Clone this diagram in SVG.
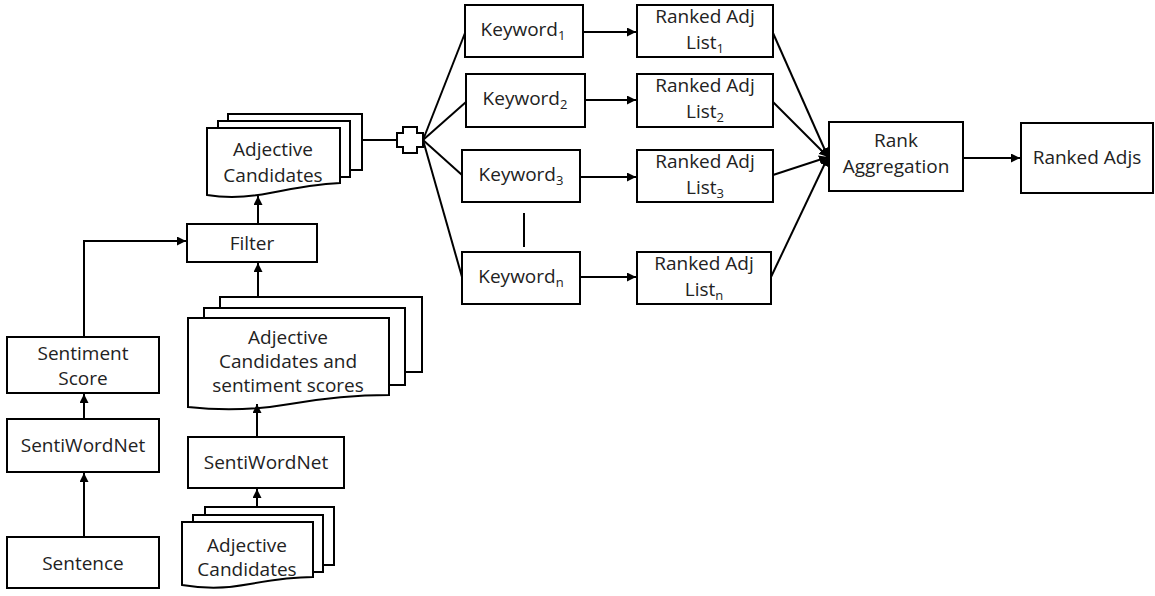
<svg xmlns="http://www.w3.org/2000/svg" width="1155" height="596" viewBox="0 0 1155 596">
  <style>
    .box { fill: #fff; stroke: #000; stroke-width: 2; }
    .lbl { font-family: "Open Sans", "Noto Sans", sans-serif; font-size: 19px; fill: #222; text-anchor: middle; }
    .sub { font-size: 13px; }
    .wire { fill: none; stroke: #000; stroke-width: 2; }
  </style>
  <defs>
    <marker id="arrow" viewBox="0 0 10 10" refX="10" refY="5" markerWidth="9" markerHeight="9" markerUnits="userSpaceOnUse" orient="auto">
      <path d="M0,0 L10,5 L0,10 z" fill="#000"/>
    </marker>
  </defs>

  <rect width="1155" height="596" fill="#fff"/>

  <!-- left branch: sentence scoring -->
  <g id="sentence">
    <rect class="box" x="7" y="537" width="152" height="51"/>
    <text class="lbl" x="83" y="570">Sentence</text>
  </g>
  <g id="sentiwordnet-1">
    <rect class="box" x="7" y="419" width="152" height="53"/>
    <text class="lbl" x="83" y="452">SentiWordNet</text>
  </g>
  <g id="sentiment-score">
    <rect class="box" x="7" y="337" width="152" height="56"/>
    <text class="lbl" x="83" y="360">Sentiment</text>
    <text class="lbl" x="83" y="385">Score</text>
  </g>

  <!-- middle branch: candidate scoring -->
  <g id="adj-candidates-in">
    <rect class="box" x="205" y="507" width="129" height="58"/>
    <rect class="box" x="193" y="515" width="130" height="57"/>
    <path class="box" d="M182,522 H313 V577 C295,577 272,580 250,584 C225,589 200,588 182,585 Z"/>
    <text class="lbl" x="247" y="552">Adjective</text>
    <text class="lbl" x="247" y="576">Candidates</text>
  </g>
  <g id="sentiwordnet-2">
    <rect class="box" x="188" y="437" width="156" height="51"/>
    <text class="lbl" x="266" y="469">SentiWordNet</text>
  </g>
  <g id="adj-candidates-scores">
    <rect class="box" x="220" y="297" width="202" height="75"/>
    <rect class="box" x="204" y="308" width="201" height="77"/>
    <path class="box" d="M188,318 H389 V395 C360,395 330,397 290,404 C250,411 215,410 188,407 Z"/>
    <text class="lbl" x="288" y="344">Adjective</text>
    <text class="lbl" x="288" y="368">Candidates and</text>
    <text class="lbl" x="288" y="392">sentiment scores</text>
  </g>
  <g id="filter">
    <rect class="box" x="187" y="224" width="130" height="38"/>
    <text class="lbl" x="252" y="250">Filter</text>
  </g>
  <g id="adj-candidates-out">
    <rect class="box" x="228" y="114" width="134" height="56"/>
    <rect class="box" x="218" y="121" width="132" height="56"/>
    <path class="box" d="M207,128 H340 V183 C318,184 295,188 270,193 C245,198 225,198 207,195 Z"/>
    <text class="lbl" x="273" y="156">Adjective</text>
    <text class="lbl" x="273" y="182">Candidates</text>
  </g>

  <!-- split point -->
  <g id="split">
    <polygon class="box" points="403,127 417,127 417,133 423,133 423,147 417,147 417,153 403,153 403,147 397,147 397,133 403,133"/>
  </g>

  <!-- keywords -->
  <g id="keyword-1">
    <rect class="box" x="465" y="5" width="118" height="52"/>
    <text class="lbl" x="523" y="36">Keyword<tspan class="sub" dy="4">1</tspan></text>
  </g>
  <g id="keyword-2">
    <rect class="box" x="466" y="74" width="119" height="53"/>
    <text class="lbl" x="525" y="105">Keyword<tspan class="sub" dy="4">2</tspan></text>
  </g>
  <g id="keyword-3">
    <rect class="box" x="462" y="150" width="118" height="52"/>
    <text class="lbl" x="521" y="181">Keyword<tspan class="sub" dy="4">3</tspan></text>
  </g>
  <g id="keyword-n">
    <rect class="box" x="462" y="252" width="118" height="52"/>
    <text class="lbl" x="521" y="283">Keyword<tspan class="sub" dy="4">n</tspan></text>
  </g>

  <!-- ranked lists -->
  <g id="ranked-list-1">
    <rect class="box" x="637" y="5" width="136" height="52"/>
    <text class="lbl" x="705" y="23">Ranked Adj</text>
    <text class="lbl" x="705" y="49">List<tspan class="sub" dy="4">1</tspan></text>
  </g>
  <g id="ranked-list-2">
    <rect class="box" x="637" y="74" width="136" height="53"/>
    <text class="lbl" x="705" y="92">Ranked Adj</text>
    <text class="lbl" x="705" y="118">List<tspan class="sub" dy="4">2</tspan></text>
  </g>
  <g id="ranked-list-3">
    <rect class="box" x="637" y="150" width="136" height="52"/>
    <text class="lbl" x="705" y="168">Ranked Adj</text>
    <text class="lbl" x="705" y="194">List<tspan class="sub" dy="4">3</tspan></text>
  </g>
  <g id="ranked-list-n">
    <rect class="box" x="637" y="252" width="134" height="52"/>
    <text class="lbl" x="704" y="270">Ranked Adj</text>
    <text class="lbl" x="704" y="296">List<tspan class="sub" dy="4">n</tspan></text>
  </g>

  <!-- aggregation -->
  <g id="rank-aggregation">
    <rect class="box" x="829" y="122" width="134" height="69"/>
    <text class="lbl" x="896" y="147">Rank</text>
    <text class="lbl" x="896" y="173">Aggregation</text>
  </g>
  <g id="ranked-adjs">
    <rect class="box" x="1021" y="123" width="132" height="70"/>
    <text class="lbl" x="1087" y="164">Ranked Adjs</text>
  </g>

  <g id="connectors">
    <!-- left branch -->
    <line class="wire" x1="84" y1="537" x2="84" y2="473" marker-end="url(#arrow)"/>
    <line class="wire" x1="84" y1="419" x2="84" y2="394" marker-end="url(#arrow)"/>
    <polyline class="wire" points="84,337 84,241 186,241" marker-end="url(#arrow)"/>
    <!-- middle branch -->
    <line class="wire" x1="257" y1="507" x2="257" y2="489" marker-end="url(#arrow)"/>
    <line class="wire" x1="257" y1="437" x2="257" y2="404" marker-end="url(#arrow)"/>
    <line class="wire" x1="258" y1="297" x2="258" y2="263" marker-end="url(#arrow)"/>
    <line class="wire" x1="258" y1="224" x2="258" y2="196" marker-end="url(#arrow)"/>
    <line class="wire" x1="362" y1="140" x2="397" y2="140"/>
    <!-- fan out to keywords -->
    <line class="wire" x1="423" y1="140" x2="465" y2="33"/>
    <line class="wire" x1="423" y1="140" x2="466" y2="102"/>
    <line class="wire" x1="423" y1="140" x2="462" y2="175"/>
    <line class="wire" x1="423" y1="140" x2="462" y2="277"/>
    <line class="wire" x1="524" y1="213" x2="524" y2="247"/>
    <!-- keywords to lists -->
    <line class="wire" x1="583" y1="32" x2="636" y2="32" marker-end="url(#arrow)"/>
    <line class="wire" x1="585" y1="100" x2="636" y2="100" marker-end="url(#arrow)"/>
    <line class="wire" x1="580" y1="177" x2="636" y2="177" marker-end="url(#arrow)"/>
    <line class="wire" x1="580" y1="277" x2="636" y2="277" marker-end="url(#arrow)"/>
    <!-- lists to aggregation -->
    <line class="wire" x1="773" y1="33" x2="828" y2="157" marker-end="url(#arrow)"/>
    <line class="wire" x1="773" y1="102" x2="828" y2="157" marker-end="url(#arrow)"/>
    <line class="wire" x1="773" y1="175" x2="828" y2="157" marker-end="url(#arrow)"/>
    <line class="wire" x1="771" y1="277" x2="828" y2="157" marker-end="url(#arrow)"/>
    <line class="wire" x1="963" y1="158" x2="1020" y2="158" marker-end="url(#arrow)"/>
  </g>
</svg>
